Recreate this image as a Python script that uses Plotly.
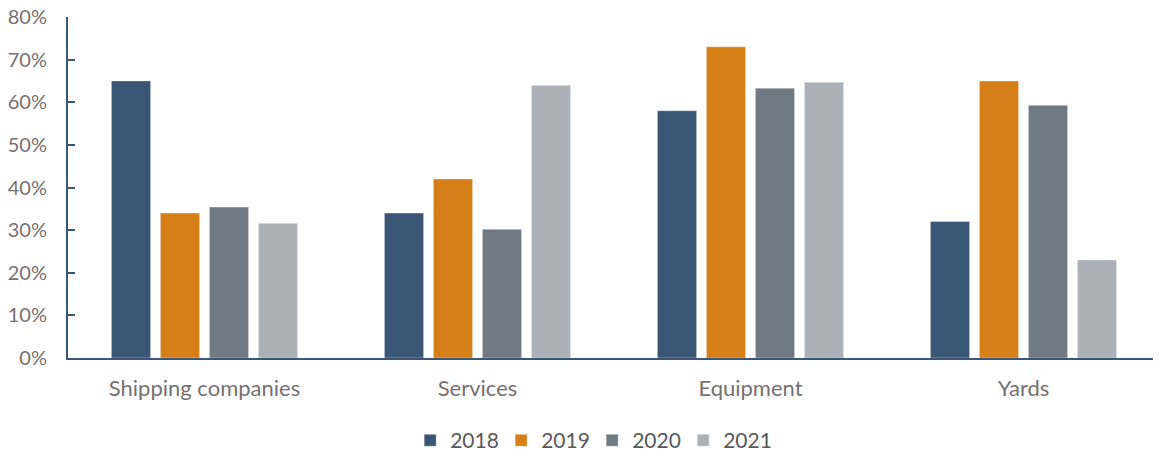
import plotly.graph_objects as go

categories = ["Shipping companies", "Services", "Equipment", "Yards"]
years = ["2018", "2019", "2020", "2021"]
# shares in percent
values = {
    "2018": [65.0, 34.0, 58.0, 32.0],
    "2019": [34.0, 42.0, 73.0, 65.0],
    "2020": [35.4, 30.2, 63.3, 59.3],
    "2021": [31.6, 64.0, 64.7, 23.0],
}
colors = ["#3A5675", "#D67E18", "#717A82", "#ABB1B7"]

AXIS = "#3A5675"
LABEL = "#767171"
FONT = "Lato, Open Sans, sans-serif"

fig = go.Figure()
for year, color in zip(years, colors):
    fig.add_trace(go.Bar(
        x=categories, y=values[year], name=year,
        marker=dict(color=color, line=dict(color="rgba(255,255,255,0.6)", width=0.6)),
    ))

# the page body has an 8px margin, so the figure is drawn 8px smaller and shifted
fig.update_layout(
    barmode="group", bargap=0.282, bargroupgap=0.2,
    width=1153, height=447,
    margin=dict(l=60, r=1, t=9, b=97, autoexpand=False),
    paper_bgcolor="white", plot_bgcolor="white",
    font=dict(family=FONT, size=22, color="#595959"),
    legend=dict(orientation="h", x=0.48, xanchor="center", y=-0.182, yanchor="top",
                font=dict(size=21, color="#595959"), itemwidth=30,
                entrywidth=46, entrywidthmode="pixels", traceorder="normal"),
)
fig.update_yaxes(
    range=[0, 80], dtick=10, ticksuffix="%", showgrid=False, zeroline=False,
    showline=True, linecolor=AXIS, linewidth=2, automargin=False,
    ticks="inside", ticklen=7, tickcolor=AXIS, tickwidth=2, ticklabeloverflow="allow",
    ticklabelstandoff=15, tickfont=dict(size=20, color=LABEL),
)
fig.update_xaxes(
    showgrid=False, showline=True, linecolor=AXIS, linewidth=2, automargin=False,
    ticks="outside", ticklen=10, tickcolor="rgba(0,0,0,0)",
    tickfont=dict(size=22, color=LABEL),
)

fig.write_html("out.html")
